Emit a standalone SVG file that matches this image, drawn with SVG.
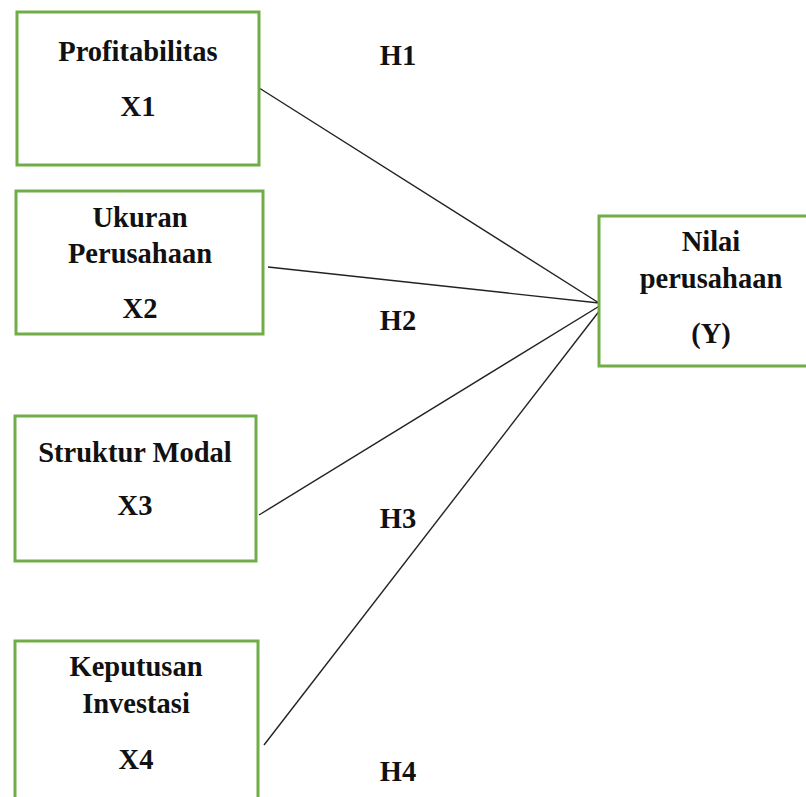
<svg xmlns="http://www.w3.org/2000/svg" width="806" height="797" viewBox="0 0 806 797">
<style>
.box{fill:#fff;stroke:#70ad47;stroke-width:3}
.t{font-family:"Liberation Serif","Times New Roman",serif;font-weight:bold;font-size:28.5px;fill:#111;text-anchor:middle}
.ln{stroke:#222;stroke-width:1.4;fill:none}
</style>
<rect width="806" height="797" fill="#fff"/>
<g id="connectors">
<line class="ln" x1="256" y1="86" x2="599" y2="303"/>
<line class="ln" x1="268" y1="267" x2="599" y2="303"/>
<line class="ln" x1="259" y1="515" x2="606" y2="302"/>
<line class="ln" x1="264" y1="745" x2="607" y2="301"/>
</g>
<g id="x1">
<rect class="box" x="17" y="12" width="242" height="153"/>
<text class="t" x="138" y="61">Profitabilitas</text>
<text class="t" x="138" y="116">X1</text>
</g>
<g id="x2">
<rect class="box" x="16" y="191" width="247" height="143"/>
<text class="t" x="140" y="227">Ukuran</text>
<text class="t" x="140" y="263">Perusahaan</text>
<text class="t" x="140" y="318">X2</text>
</g>
<g id="x3">
<rect class="box" x="15" y="416" width="241" height="145"/>
<text class="t" x="135" y="462">Struktur Modal</text>
<text class="t" x="135" y="515">X3</text>
</g>
<g id="x4">
<rect class="box" x="15" y="641" width="243" height="170"/>
<text class="t" x="136" y="676">Keputusan</text>
<text class="t" x="136" y="713">Investasi</text>
<text class="t" x="136" y="769">X4</text>
</g>
<g id="y">
<rect class="box" x="599" y="216" width="220" height="150"/>
<text class="t" x="711" y="251">Nilai</text>
<text class="t" x="711" y="288">perusahaan</text>
<text class="t" x="711" y="343">(Y)</text>
</g>
<g id="labels">
<text class="t" x="398" y="65">H1</text>
<text class="t" x="398" y="330">H2</text>
<text class="t" x="398" y="528">H3</text>
<text class="t" x="398" y="781">H4</text>
</g>
</svg>
